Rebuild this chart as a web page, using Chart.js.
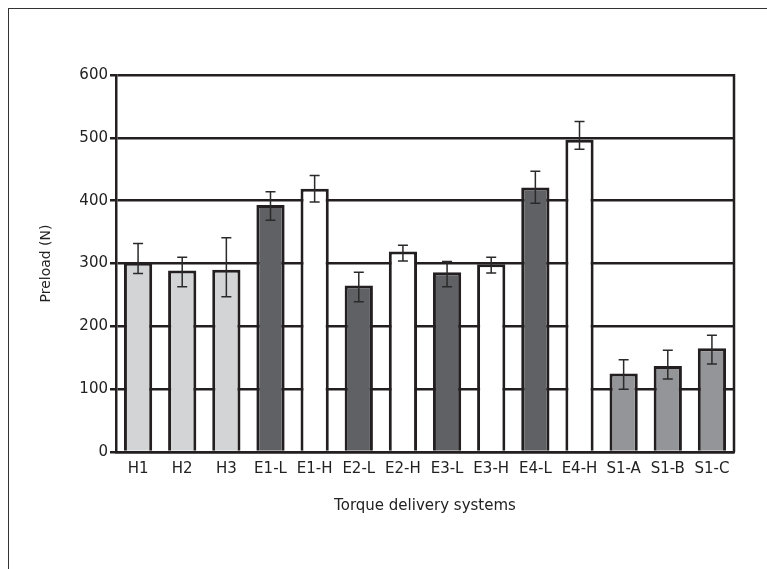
<!DOCTYPE html>
<html>
<head>
    <title>Preload by torque delivery system</title>
    <script src="https://cdn.jsdelivr.net/npm/chart.js@4"></script>
    <style>
        html, body {
            margin: 0;
            padding: 0;
            background: #fff;
            overflow: hidden;
        }

        #frame {
            position: absolute;
            left: 8px;
            top: 8px;
            width: 800px;
            height: 600px;
            border: 1.5px solid #333;
        }

        #chart {
            position: absolute;
            left: 0;
            top: 0;
        }
    </style>
</head>
<body>
<div id="frame"></div>
<canvas id="chart" width="767" height="569"></canvas>
<script>
    // Values
    const categories = ['H1', 'H2', 'H3', 'E1-L', 'E1-H', 'E2-L', 'E2-H', 'E3-L', 'E3-H', 'E4-L', 'E4-H', 'S1-A', 'S1-B', 'S1-C'];
    const preload = [301, 289, 290, 393, 419, 265, 319, 286, 299, 421, 497, 125, 137, 165];
    const errorTop = [332, 310, 341, 414, 440, 286, 329, 303, 310, 447, 526, 147, 162, 186];
    const errorBottom = [284, 263, 247, 369, 398, 239, 304, 263, 285, 396, 482, 100, 116, 140];
    const yTicks = [0, 100, 200, 300, 400, 500, 600];

    const INK = '#231f20';
    const FONT = "'DejaVu Sans', 'Liberation Sans', sans-serif";

    // Hand tools light grey, electric low dark, electric high white, spring tools mid grey
    function barColour(name) {
        if (name.startsWith('H')) return '#d3d4d6';
        if (name.startsWith('S')) return '#949599';
        return name.endsWith('-L') ? '#606164' : '#ffffff';
    }

    // Error bars and the right-hand frame of the plot
    const errorBars = {
        id: 'errorBars',
        afterDatasetsDraw(chart) {
            const ctx = chart.ctx;
            const y = chart.scales.y;
            const meta = chart.getDatasetMeta(0);
            ctx.save();
            ctx.strokeStyle = '#2a2a2a';
            ctx.lineWidth = 1.5;
            meta.data.forEach((bar, i) => {
                const top = y.getPixelForValue(errorTop[i]);
                const bottom = y.getPixelForValue(errorBottom[i]);
                ctx.beginPath();
                ctx.moveTo(bar.x, top);
                ctx.lineTo(bar.x, bottom);
                ctx.moveTo(bar.x - 5, top);
                ctx.lineTo(bar.x + 5, top);
                ctx.moveTo(bar.x - 5, bottom);
                ctx.lineTo(bar.x + 5, bottom);
                ctx.stroke();
            });
            const area = chart.chartArea;
            ctx.strokeStyle = INK;
            ctx.lineWidth = 2.5;
            ctx.beginPath();
            ctx.moveTo(area.right, area.top - 1);
            ctx.lineTo(area.right, area.bottom);
            ctx.stroke();
            ctx.restore();
        }
    };

    Chart.defaults.color = '#222';
    Chart.defaults.font.family = FONT;
    Chart.defaults.font.size = 15;

    new Chart(document.getElementById('chart'), {
        type: 'bar',
        data: {
            labels: categories,
            datasets: [{
                data: preload,
                backgroundColor: categories.map(barColour),
                borderColor: INK,
                borderWidth: 3,
                barPercentage: 0.64,
                categoryPercentage: 1,
            }]
        },
        options: {
            responsive: false,
            animation: false,
            layout: {
                padding: {left: 30, right: 33, top: 75, bottom: 50}
            },
            plugins: {
                legend: {display: false},
                tooltip: {enabled: false},
            },
            scales: {
                x: {
                    grid: {display: false, drawTicks: false},
                    border: {display: true, color: INK, width: 2.5},
                    ticks: {padding: 8, maxRotation: 0, autoSkip: false, font: {size: 15}},
                    title: {
                        display: true,
                        text: 'Torque delivery systems',
                        font: {size: 15},
                        padding: {top: 10},
                    },
                    afterFit(scale) {
                        scale.height = 67;
                    },
                },
                y: {
                    min: 0,
                    max: 600,
                    afterBuildTicks(scale) {
                        scale.ticks = yTicks.map(v => ({value: v}));
                    },
                    grid: {color: INK, lineWidth: 2.5, tickLength: 6},
                    border: {display: true, color: INK, width: 2.5},
                    ticks: {padding: 2, font: {size: 15}},
                    title: {
                        display: true,
                        text: 'Preload (N)',
                        font: {size: 14},
                        padding: {top: 8, bottom: 10},
                    },
                    afterFit(scale) {
                        scale.width = 86;
                    },
                }
            }
        },
        plugins: [errorBars]
    });
</script>
</body>
</html>
